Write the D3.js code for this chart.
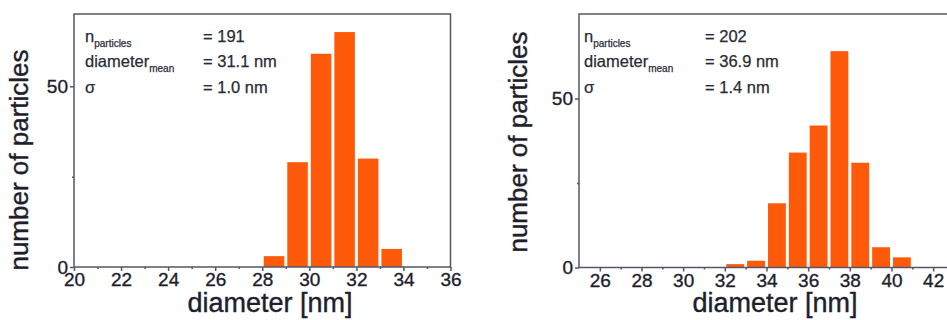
<!DOCTYPE html>
<html>
<head>
<meta charset="utf-8">
<script src="https://cdn.jsdelivr.net/npm/d3@7"></script>
<style>
  body { margin: 0; background: #fff; }
  svg { display: block; font-family: "Liberation Sans", Arial, sans-serif; }
  .axis path, .axis line { stroke: #55566a; stroke-width: 1.5; }
  .axis text { fill: #1e1e2c; font-size: 19px; font-family: "Liberation Sans", Arial, sans-serif;
               stroke: #1e1e2c; stroke-width: 0.35; }
  .title { fill: #1e1e2c; stroke: #1e1e2c; stroke-width: 0.4; }
  .stat { fill: #2a2a36; stroke: #2a2a36; stroke-width: 0.25; }
</style>
</head>
<body>
<script>
// left histogram
var binsA = [28, 29, 30, 31, 32, 33],
    countsA = [3, 29, 59, 65, 30, 5],
    xTicksA = [20, 22, 24, 26, 28, 30, 32, 34, 36],
    xMinorA = [21, 23, 25, 27, 29, 31, 33, 35],
    statsA = ["= 191", "= 31.1 nm", "= 1.0 nm"];

// right histogram
var binsB = [32, 33, 34, 35, 36, 37, 38, 39, 40],
    countsB = [1, 2, 19, 34, 42, 64, 31, 6, 3],
    xTicksB = [26, 28, 30, 32, 34, 36, 38, 40, 42],
    xMinorB = [27, 29, 31, 33, 35, 37, 39, 41],
    statsB = ["= 202", "= 36.9 nm", "= 1.4 nm"];

var yTicks = [0, 50],
    yMinor = [25],
    statNames = [["n", "particles"], ["diameter", "mean"], ["\u03c3", ""]];

var width = 947, height = 320;

var svg = d3.select("body").append("svg")
    .attr("width", width).attr("height", height);

var panels = [
  { bins: binsA, counts: countsA, xTicks: xTicksA, xMinor: xMinorA, stats: statsA,
    xDomain: [20, 36], xRange: [74, 450.5], yDomain: [0, 70], yRange: [267, 14],
    yTitleX: 28, yTitleY: 160, xTitleX: 270, statX: 85, valX: 203 },
  { bins: binsB, counts: countsB, xTicks: xTicksB, xMinor: xMinorB, stats: statsB,
    xDomain: [25, 43], xRange: [579, 954], yDomain: [0, 75], yRange: [267.5, 14],
    yTitleX: 527, yTitleY: 142, xTitleX: 775, statX: 584, valX: 705 }
];

panels.forEach(function(p) {
  var x = d3.scaleLinear().domain(p.xDomain).range(p.xRange),
      y = d3.scaleLinear().domain(p.yDomain).range(p.yRange);
  var g = svg.append("g");

  // bars, 1 nm bins with a small gap
  g.selectAll("rect.bar")
      .data(p.bins.map((b, i) => ({ x0: b, n: p.counts[i] })))
      .enter().append("rect")
      .classed("bar", true)
      .attr("x", d => x(d.x0) + 1.5)
      .attr("width", d => x(d.x0 + 1) - x(d.x0) - 3)
      .attr("y", d => y(d.n))
      .attr("height", d => y(0) - y(d.n))
      .attr("fill", "#ff5a0a");

  // frame
  g.append("rect")
      .attr("x", p.xRange[0]).attr("y", p.yRange[1])
      .attr("width", p.xRange[1] - p.xRange[0])
      .attr("height", p.yRange[0] - p.yRange[1])
      .attr("fill", "none").attr("stroke", "#55566a").attr("stroke-width", 1.5);

  var xAxis = g.append("g").classed("axis", true)
      .attr("transform", "translate(0," + p.yRange[0] + ")")
      .call(d3.axisBottom(x).tickValues(p.xTicks).tickSize(4).tickSizeOuter(0).tickPadding(2));
  xAxis.select(".domain").remove();
  g.append("g").classed("axis", true)
      .attr("transform", "translate(0," + p.yRange[0] + ")")
      .call(d3.axisBottom(x).tickValues(p.xMinor).tickSize(2).tickFormat(""))
      .select(".domain").remove();

  var yAxis = g.append("g").classed("axis", true)
      .attr("transform", "translate(" + p.xRange[0] + ",0)")
      .call(d3.axisLeft(y).tickValues(yTicks).tickSize(4).tickPadding(2));
  yAxis.select(".domain").remove();
  g.append("g").classed("axis", true)
      .attr("transform", "translate(" + p.xRange[0] + ",0)")
      .call(d3.axisLeft(y).tickValues(yMinor).tickSize(2).tickFormat(""))
      .select(".domain").remove();

  // axis titles
  g.append("text").classed("title", true)
      .attr("transform", "translate(" + p.yTitleX + "," + p.yTitleY + ") rotate(-90)")
      .attr("text-anchor", "middle")
      .style("font-size", "26px")
      .text("number of particles");
  g.append("text").classed("title", true)
      .attr("x", p.xTitleX).attr("y", 312)
      .attr("text-anchor", "middle")
      .style("font-size", "27px")
      .text("diameter [nm]");

  // statistics box
  statNames.forEach(function(s, i) {
    var by = 41.5 + i * 25.5;
    var t = g.append("text").classed("stat", true)
        .attr("x", p.statX).attr("y", by)
        .style("font-size", "16.5px");
    t.append("tspan").text(s[0]);
    if (s[1]) t.append("tspan").attr("dy", 5).style("font-size", "10px").text(s[1]);
    g.append("text").classed("stat", true)
        .attr("x", p.valX).attr("y", by)
        .style("font-size", "16.5px")
        .text(p.stats[i]);
  });
});
</script>
</body>
</html>
